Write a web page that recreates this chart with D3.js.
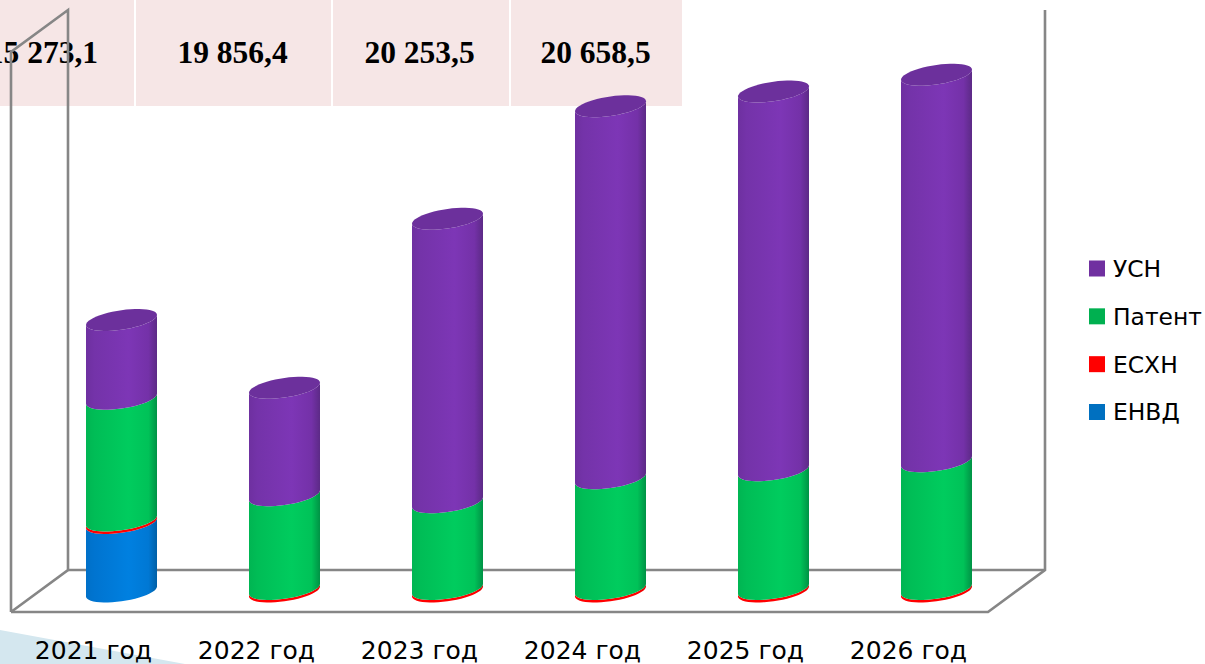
<!DOCTYPE html>
<html>
<head>
<meta charset="utf-8">
<script src="https://cdnjs.cloudflare.com/ajax/libs/d3/7.8.5/d3.min.js"></script>
<style>
    html, body { margin: 0; padding: 0; background: #fff; overflow: hidden; }
    svg { display: block; }
    .legendlabel { font-family: "DejaVu Sans", sans-serif; fill: #000; }
    .bannertext { font-family: "Liberation Serif", serif; font-weight: bold; font-size: 31.5px; fill: #000; }
</style>
</head>
<body>
<svg id="chart" width="1205" height="664"></svg>
<script>
let years = ["2021 год", "2022 год", "2023 год", "2024 год", "2025 год", "2026 год"];
let envd = [2740, 0, 0, 0, 0, 0];
let eshn = [100, 100, 100, 100, 100, 100];
let patent = [4870, 3750, 3470, 4430, 4750, 5110];
let usn = [3150, 4300, 11340, 14880, 15150, 15460];

let seriesNames = ["ЕНВД", "ЕСХН", "Патент", "УСН"];
let legendNames = ["УСН", "Патент", "ЕСХН", "ЕНВД"];
let bannerLabels = ["15 273,1", "19 856,4", "20 253,5", "20 658,5"];

let colors = { "ЕНВД": "#0070c0", "ЕСХН": "#ff0000", "Патент": "#00b050", "УСН": "#7030a0" };
// left edge, left, middle, right, right edge of each cylinder
let shades = {
    "ЕНВД": ["#0070c8", "#0074d0", "#0080e0", "#0078d4", "#005fa6"],
    "ЕСХН": ["#ff0000", "#ff0000", "#ff0000", "#ff0000", "#e00000"],
    "Патент": ["#00b552", "#00bd56", "#00cc5e", "#00c258", "#009245"],
    "УСН": ["#6e30a0", "#7433a9", "#7d36b6", "#7431a8", "#5c2a86"]
};
let capColor = "#6c309c";

let svg = d3.select("#chart");
let defs = svg.append("defs");

let rows = years.map((y, i) => ({ year: y, "ЕНВД": envd[i], "ЕСХН": eshn[i], "Патент": patent[i], "УСН": usn[i] }));
let stacked = d3.stack().keys(seriesNames)(rows);

let x = d3.scalePoint().domain(years).range([121.5, 936.5]);
let y = d3.scaleLinear().domain([0, 20658.5]).range([591.5, 75]);

let rx = 35.5, ry = 9.8, skew = 5;
let arcLine = d3.line();

// front half of the tilted ellipse, right to left
function frontArc(cx, cy) {
    return d3.range(0, 25).map(k => {
        let t = Math.PI * k / 24;
        return [cx + rx * Math.cos(t), cy + ry * Math.sin(t) - skew * Math.cos(t)];
    });
}

function wholeEllipse(cx, cy) {
    return d3.range(0, 49).map(k => {
        let t = Math.PI * k / 24;
        return [cx + rx * Math.cos(t), cy + ry * Math.sin(t) - skew * Math.cos(t)];
    });
}

seriesNames.forEach((name, i) => {
    let grad = defs.append("linearGradient").attr("id", "grad" + i);
    [0, 0.12, 0.6, 0.88, 1].forEach((o, j) => {
        grad.append("stop").attr("offset", o).attr("stop-color", shades[name][j]);
    });
});

// pink strip behind the chart, its first cell runs off the left edge like the reference
let stripEdges = [-60, 134, 331, 509, 682];
let stripTextX = [98, 232.5, 419.5, 595.5];
let strip = svg.append("g");
strip.selectAll("rect").data(bannerLabels).join("rect")
    .attr("x", (d, i) => stripEdges[i] + (i ? 2 : 0))
    .attr("y", 0)
    .attr("width", (d, i) => stripEdges[i + 1] - stripEdges[i] - (i ? 2 : 0))
    .attr("height", 106)
    .attr("fill", "#f6e6e6");
strip.selectAll("text").data(bannerLabels).join("text")
    .attr("class", "bannertext")
    .attr("x", (d, i) => stripTextX[i])
    .attr("y", 63)
    .attr("text-anchor", (d, i) => i ? "middle" : "end")
    .text(d => d);

// corner shape
svg.append("path")
    .attr("d", arcLine([[0, 630], [185, 664], [0, 664]]) + "Z")
    .attr("fill", "#d4e7ef");

// 3d frame
let frame = [
    [[11, 612], [11, 52], [68, 10], [68, 570], [11, 612]],
    [[68, 570], [1045, 570]],
    [[1045, 10], [1045, 570], [988, 612], [11, 612]]
];
svg.append("g").selectAll("path").data(frame).join("path")
    .attr("d", d => arcLine(d))
    .attr("fill", "none")
    .attr("stroke", "#868686")
    .attr("stroke-width", 2.6);

// cylinders
stacked.forEach((layer, i) => {
    svg.append("g").selectAll("path")
        .data(layer.filter(d => d[1] > d[0]))
        .join("path")
        .attr("fill", "url(#grad" + i + ")")
        .attr("d", d => {
            let cx = x(d.data.year);
            let lower = frontArc(cx, y(d[0]));
            let upper = frontArc(cx, y(d[1])).reverse();
            return arcLine(lower.concat(upper)) + "Z";
        });
});

svg.append("g").selectAll("path").data(rows).join("path")
    .attr("fill", capColor)
    .attr("d", d => arcLine(wholeEllipse(x(d.year), y(d3.sum(seriesNames, k => d[k])))) + "Z");

// year labels sit left of the bars because of the 3d shift
let axis = svg.append("g")
    .attr("transform", "translate(-28.5,635)")
    .call(d3.axisBottom(x).tickSize(0).tickPadding(6));
axis.select(".domain").remove();
axis.selectAll("text").attr("font-size", 25).attr("font-family", "DejaVu Sans").attr("fill", "#000");

// legend
let legendY = d3.scalePoint().domain(legendNames).range([268.5, 412]);
let legend = svg.append("g");
legend.selectAll("rect").data(legendNames).join("rect")
    .attr("x", 1089)
    .attr("y", d => legendY(d) - 8)
    .attr("width", 16)
    .attr("height", 16)
    .attr("fill", d => colors[d]);
legend.selectAll("text").data(legendNames).join("text")
    .attr("class", "legendlabel")
    .attr("x", 1113)
    .attr("y", d => legendY(d))
    .attr("dy", "0.36em")
    .attr("font-size", 23.4)
    .text(d => d);
</script>
</body>
</html>
